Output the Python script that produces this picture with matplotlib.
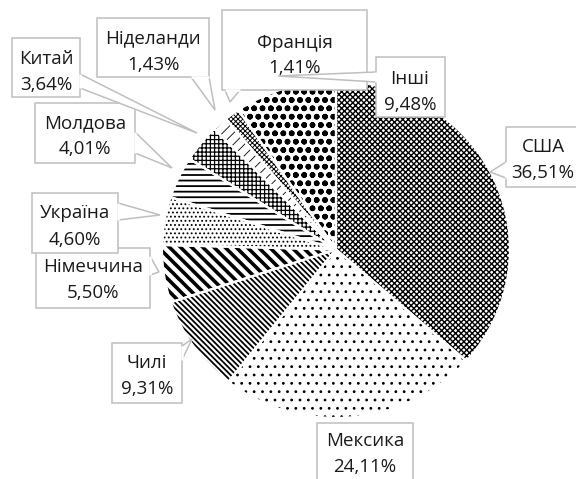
import matplotlib
matplotlib.use('Agg')
import matplotlib.pyplot as plt
from matplotlib.patches import Rectangle, Polygon

plt.rcParams['font.family'] = ['Open Sans', 'DejaVu Sans']

# Export shares by country, clockwise from 12 o'clock
countries = ['США', 'Мексика', 'Чилі', 'Німеччина', 'Україна', 'Молдова',
             'Китай', 'Ніделанди', 'Франція', 'Інші']
shares = [36.51, 24.11, 9.31, 5.50, 4.60, 4.01, 3.64, 1.43, 1.41, 9.48]

hatches = ['xxxxxx', '..', '\\' * 6, '\\' * 3, '....', '---', '++++', '///', 'xxxxxxx', 'oo']
hatch_lw = [1.0, 0.8, 1.3, 2.6, 0.8, 1.3, 0.9, 0.6, 0.7, 1.7]

GREY = '#BFBFBF'
W, H = 576, 479

fig = plt.figure(figsize=(W / 100, H / 100), dpi=100)

# pie area (slightly squashed, like the source image)
ax = fig.add_axes([162 / W, 61 / H, 348 / W, 337 / H])
wedges, _ = ax.pie(shares, startangle=90, counterclock=False, radius=1,
                   hatch=hatches,
                   wedgeprops=dict(facecolor='white', edgecolor='black', linewidth=0))
for w, lw in zip(wedges, hatch_lw):
    if hasattr(w, 'set_hatch_linewidth'):
        w.set_hatch_linewidth(lw)
    else:
        w._hatch_linewidth = lw
# white gaps between slices
ax.pie(shares, startangle=90, counterclock=False, radius=1,
       wedgeprops=dict(facecolor='none', edgecolor='white', linewidth=1.6))
ax.set_aspect('auto')
ax.set_xlim(-1, 1)
ax.set_ylim(-1, 1)
ax.axis('off')

# overlay in pixel coordinates for the callouts
lab = fig.add_axes([0, 0, 1, 1])
lab.set_xlim(0, W)
lab.set_ylim(H, 0)
lab.axis('off')

# box (x0, y0, x1, y1), text centre x, line y's, pointer tip, pointer base
callouts = {
    'Німеччина': ((36, 248, 150, 308), 93, (266, 292), (159, 272), ((150, 256), (150, 275))),
    'Україна':   ((32, 193, 118, 253), 75, (212, 238), (160, 215), ((118, 203), (118, 220))),
    'Молдова':   ((35, 103, 135, 163), 85, (122, 147), (172, 168), ((135, 132), (135, 153))),
    'Китай':     ((12, 38, 80, 97), 46, (57, 83), (197, 133), ((80, 74), (80, 88))),
    'Ніделанди': ((97, 18, 209, 77), 153, (37, 63), (215, 110), ((191, 77), (209, 77))),
    'Франція':   ((222, 10, 367, 90), 295, (41, 66), (230, 102), ((225, 90), (240, 90))),
    'Інші':      ((376, 57, 445, 117), 410, (77, 103), (278, 76), ((376, 72), (376, 82))),
    'США':       ((506, 127, 590, 187), 543, (146, 171), (490, 172), ((506, 162), (506, 178))),
    'Мексика':   ((317, 423, 413, 492), 365, (440, 466), None, None),
    'Чилі':      ((112, 343, 182, 403), 147, (362, 387), (192, 339), ((182, 346), (182, 360))),
}

z = 5
for name, (box, cx, (ya, yb), tip, base) in callouts.items():
    val = shares[countries.index(name)]
    x0, y0, x1, y1 = box
    lab.add_patch(Rectangle((x0, y0), x1 - x0, y1 - y0, facecolor='white',
                            edgecolor=GREY, linewidth=1.1, zorder=z))
    if tip is not None:
        (bx0, by0), (bx1, by1) = base
        lab.add_patch(Polygon([(bx0, by0), tip, (bx1, by1)], closed=False,
                              facecolor='white', edgecolor=GREY, linewidth=1.1,
                              zorder=z + 0.1))
        lab.plot([bx0, bx1], [by0, by1], color='white', linewidth=1.8,
                 solid_capstyle='butt', zorder=z + 0.2)
    lab.text(cx, ya + 6.5, name, ha='center', va='baseline', fontsize=13.5,
             color='#1a1a1a', zorder=z + 0.3)
    lab.text(cx, yb + 6.5, f'{val:.2f}'.replace('.', ',') + '%', ha='center',
             va='baseline', fontsize=13.5, color='#1a1a1a', zorder=z + 0.3)
    z += 1

fig.savefig('out.png', dpi=100, facecolor='white')
